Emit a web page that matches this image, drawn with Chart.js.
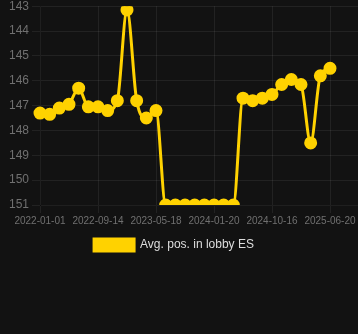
<!DOCTYPE html>
<html>
<head>
<meta charset="utf-8">
<script src="https://cdn.jsdelivr.net/npm/chart.js@4"></script>
<style>
  html, body { margin: 0; padding: 0; background: #121212; overflow: hidden; }
  #frame { position: relative; width: 358px; height: 334px; overflow: hidden; }
  #wrap { position: absolute; left: -19px; top: -4px; width: 386px; height: 265px; }
</style>
</head>
<body>
<div id="frame"><div id="wrap"><canvas id="posChart"></canvas></div></div>
<script>
const dates = [
  '2022-01-01', '2022-02-13', '2022-03-28', '2022-05-10', '2022-06-22', '2022-08-03',
  '2022-09-14', '2022-10-25', '2022-12-05', '2023-01-15', '2023-02-25', '2023-04-07',
  '2023-05-18', '2023-06-28', '2023-08-08', '2023-09-18', '2023-10-29', '2023-12-09',
  '2024-01-20', '2024-03-05', '2024-04-19', '2024-06-03', '2024-07-18', '2024-09-01',
  '2024-10-16', '2024-11-26', '2025-01-06', '2025-02-16', '2025-03-29', '2025-05-09',
  '2025-06-20', '2025-07-31', '2025-09-10', '2025-10-21'
];
const avgPos = [
  147.3, 147.35, 147.1, 146.95, 146.3, 147.05,
  147.05, 147.2, 146.8, 143.15, 146.8, 147.5,
  147.2, 151, 151, 151, 151, 151,
  151, 151, 151, 146.7, 146.8, 146.7,
  146.55, 146.15, 145.95, 146.15, 148.5, 145.8,
  145.5
];
const yMin = 143;
const yMax = 151;

const gold = '#ffd200';
const gridColor = 'rgba(255, 255, 255, 0.07)';
const tickColor = '#707070';

new Chart(document.getElementById('posChart'), {
  type: 'line',
  data: {
    labels: dates,
    datasets: [
      {
        label: 'Avg. pos. in lobby ES',
        data: avgPos,
        borderColor: gold,
        backgroundColor: gold,
        pointBackgroundColor: gold,
        pointBorderColor: gold,
        borderWidth: 3,
        pointRadius: 5,
        cubicInterpolationMode: 'monotone'
      }
    ]
  },
  options: {
    responsive: true,
    maintainAspectRatio: false,
    animation: false,
    scales: {
      x: {
        ticks: {
          color: tickColor,
          maxRotation: 0,
          autoSkip: true,
          maxTicksLimit: 6,
          padding: 2,
          font: { size: 10 }
        },
        grid: { color: gridColor }
      },
      y: {
        reverse: true,
        min: yMin,
        max: yMax,
        afterFit: (scale) => { scale.width = 59; },
        ticks: {
          stepSize: 1,
          color: tickColor,
          font: { size: 12 }
        },
        grid: { color: gridColor }
      }
    },
    plugins: {
      legend: {
        position: 'bottom',
        labels: {
          color: '#dddddd',
          boxWidth: 40,
          font: { size: 12 }
        }
      },
      tooltip: { enabled: false }
    }
  }
});
</script>
</body>
</html>
